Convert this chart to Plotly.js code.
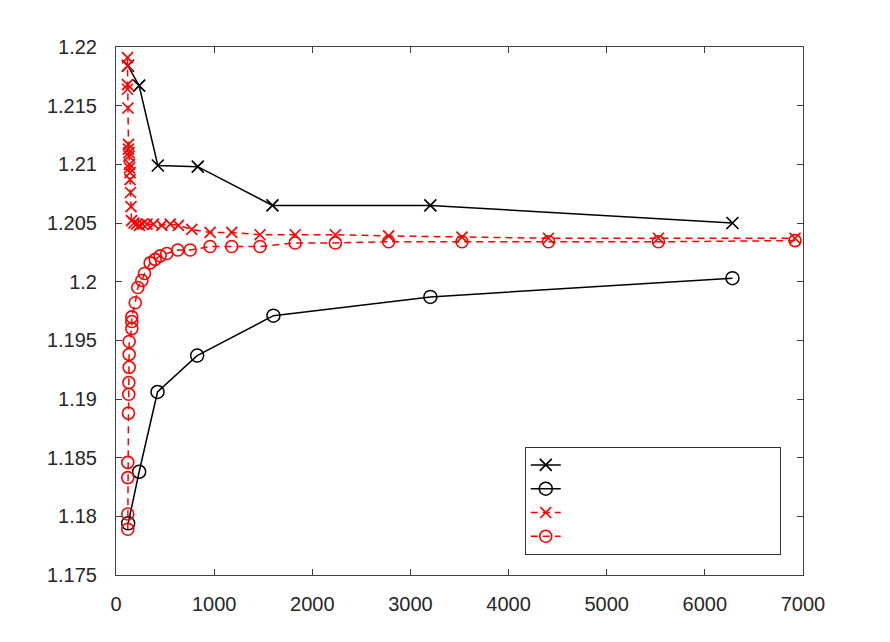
<!DOCTYPE html>
<html>
<head>
<meta charset="utf-8">
<script src="https://cdn.plot.ly/plotly-3.0.1.min.js"></script>
<style>html,body{margin:0;padding:0;background:#fff;}#chart{width:890px;height:642px;}</style>
</head>
<body>
<div id="chart"></div>
<script>
// Black solid series (x markers / o markers)
var blackX_x = [122, 236, 426, 833, 1594, 3203, 6281];
var blackX_y = [1.2184, 1.2167, 1.2099, 1.2098, 1.2065, 1.2065, 1.2050];
var blackO_x = [124, 236, 423, 827, 1604, 3203, 6281];
var blackO_y = [1.1794, 1.1838, 1.1906, 1.1937, 1.1971, 1.1987, 1.2003];

// Red dashed series (x markers / o markers)
var redX_x = [117, 117, 117, 117, 122, 127, 127, 132, 132, 137, 137, 143, 143, 148, 153,
              158, 183, 209, 239, 270, 316, 382, 466, 552, 636, 772, 959, 1179, 1468, 1825,
              2235, 2778, 3525, 4407, 5527, 6919];
var redX_y = [1.2191, 1.2184, 1.2168, 1.2164, 1.2148, 1.2117, 1.2113, 1.2110, 1.2107, 1.2100,
              1.2097, 1.2093, 1.2087, 1.2076, 1.2064, 1.2052, 1.2050, 1.2049, 1.2048, 1.2049,
              1.2049, 1.2049, 1.2048, 1.2049, 1.2048, 1.20445, 1.2042, 1.2042, 1.2040, 1.2040,
              1.2040, 1.2039, 1.2038, 1.2037, 1.2037, 1.2037];
var redO_x = [120, 120, 120, 120, 127, 130, 131, 134, 134, 134, 161, 161, 161, 196, 222,
              263, 290, 348, 399, 450, 517, 629, 756, 959, 1179, 1468, 1825, 2235, 2778, 3525,
              4407, 5527, 6919];
var redO_y = [1.1789, 1.1802, 1.1833, 1.1846, 1.1888, 1.1904, 1.1914, 1.1927, 1.1938, 1.1949,
              1.1960, 1.1966, 1.1970, 1.1982, 1.1995, 1.2001, 1.2007, 1.2016, 1.2019, 1.2022,
              1.2024, 1.2027, 1.2027, 1.2030, 1.2030, 1.2030, 1.2033, 1.2033, 1.2034, 1.2034,
              1.2034, 1.2034, 1.2035];

// Tick values
var xTicks = [0, 1000, 2000, 3000, 4000, 5000, 6000, 7000];
var yTicks = [1.175, 1.18, 1.185, 1.19, 1.195, 1.2, 1.205, 1.21, 1.215, 1.22];
var yTickText = ['1.175', '1.18', '1.185', '1.19', '1.195', '1.2', '1.205', '1.21', '1.215', '1.22'];

var blankName = '\u00a0'.repeat(47);

var traces = [
  {x: blackX_x, y: blackX_y, name: blankName, type: 'scatter', mode: 'lines+markers',
   line: {color: '#000000', width: 1.5},
   marker: {symbol: 'x-thin-open', size: 12, color: '#000000', line: {color: '#000000', width: 1.7}}},
  {x: blackO_x, y: blackO_y, name: blankName, type: 'scatter', mode: 'lines+markers',
   line: {color: '#000000', width: 1.5},
   marker: {symbol: 'circle-open', size: 13, color: '#000000', line: {color: '#000000', width: 1.5}}},
  {x: redX_x, y: redX_y, name: blankName, type: 'scatter', mode: 'lines+markers',
   line: {color: '#ff0000', width: 1.5, dash: '7px,5px'},
   marker: {symbol: 'x-thin-open', size: 11, color: '#ff0000', line: {color: '#ff0000', width: 1.7}}},
  {x: redO_x, y: redO_y, name: blankName, type: 'scatter', mode: 'lines+markers',
   line: {color: '#ff0000', width: 1.5, dash: '7px,5px'},
   marker: {symbol: 'circle-open', size: 12, color: '#ff0000', line: {color: '#ff0000', width: 1.6}}}
];

var axisCommon = {
  showgrid: false, zeroline: false, showline: true, mirror: 'ticks',
  linecolor: '#404040', linewidth: 1, ticks: 'inside', ticklen: 6, tickwidth: 1,
  tickcolor: '#404040', tickfont: {family: 'Liberation Sans, Arial, sans-serif', size: 20, color: '#262626'}
};

var layout = {
  width: 890, height: 642,
  margin: {l: 116, r: 87, t: 47, b: 67, pad: 0},
  paper_bgcolor: '#ffffff', plot_bgcolor: '#ffffff',
  showlegend: true,
  xaxis: Object.assign({}, axisCommon, {range: [0, 7000], tickvals: xTicks, ticktext: xTicks.map(String), ticklabelstandoff: 11}),
  yaxis: Object.assign({}, axisCommon, {range: [1.175, 1.22], tickvals: yTicks, ticktext: yTickText, ticklabelstandoff: 14}),
  legend: {x: 0.595, y: 0.2424, xanchor: 'left', yanchor: 'top', bgcolor: '#ffffff',
           bordercolor: '#333333', borderwidth: 1, font: {size: 16, family: 'Liberation Sans, Arial, sans-serif'},
           tracegroupgap: 0}
};

Plotly.newPlot('chart', traces, layout, {displayModeBar: false, staticPlot: true});
</script>
</body>
</html>
